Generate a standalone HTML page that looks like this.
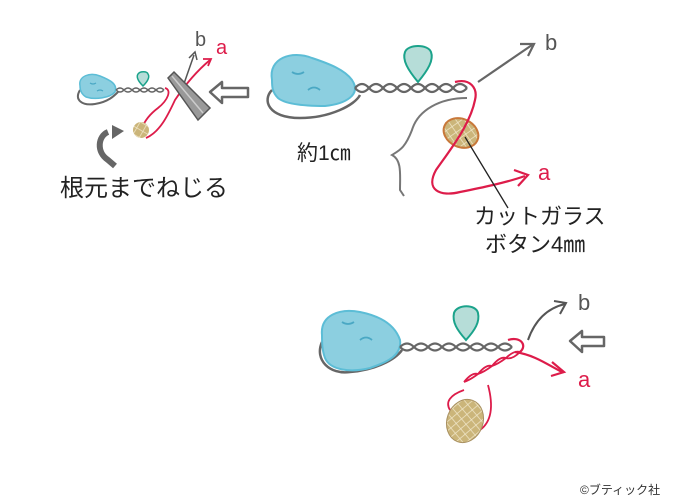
<!DOCTYPE html>
<html><head><meta charset="utf-8"><style>
body{margin:0;background:#fff}
svg{display:block}
text{font-family:"Liberation Sans","Noto Sans CJK JP",sans-serif}
</style></head><body>
<svg width="680" height="500" viewBox="0 0 680 500" xmlns="http://www.w3.org/2000/svg">
<defs>
<pattern id="hatch" width="7" height="7" patternUnits="userSpaceOnUse" patternTransform="rotate(30)">
<rect width="7" height="7" fill="#cbb57a"/>
<path d="M0 0H7M0 0V7" stroke="#f0e6c8" stroke-width="1.5"/>
</pattern>
</defs>
<!-- ===== TOP RIGHT ===== -->
<path d="M272 90 C262 100 268 118 300 118 C330 118 355 105 360 95" fill="none" stroke="#666" stroke-width="2.5"/>
<path d="M272 80 C268 58 292 50 312 58 C330 64 345 70 352 80 C362 95 345 104 325 106 C305 106 285 104 278 98 C272 92 272 86 272 80Z" fill="#8ccfe0" stroke="#5cbdd6" stroke-width="2"/>
<path d="M292 72 q6 4 12 0 M308 90 q6 -5 12 0" fill="none" stroke="#4aa8c4" stroke-width="1.8"/>
<path d="M355 88 q7 -8 14 0 q7 8 14 0 q7 -8 14 0 q7 8 14 0 q7 -8 14 0 q7 8 14 0 q7 -8 14 0 q7 8 14 0" fill="none" stroke="#666" stroke-width="2.2"/>
<path d="M355 88 q7 8 14 0 q7 -8 14 0 q7 8 14 0 q7 -8 14 0 q7 8 14 0 q7 -8 14 0 q7 8 14 0 q7 -8 14 0" fill="none" stroke="#666" stroke-width="2.2"/>
<path d="M418 82 C408 70 402 60 405 52 C408 44 428 44 431 52 C434 60 428 70 418 82Z" fill="#b6ddd8" stroke="#1ba38b" stroke-width="2"/>
<path d="M478 82 L532 45" stroke="#666" stroke-width="2.2" fill="none"/>
<path d="M520 44 L534 44 L528 56" stroke="#666" stroke-width="2.2" fill="none"/>
<text x="545" y="50" font-size="22" fill="#555">b</text>
<path d="M467 98 C440 98 418 110 412 130 C405 148 400 150 392 155 C402 160 400 175 400 190 L404 196" fill="none" stroke="#777" stroke-width="2"/>
<ellipse cx="461" cy="133" rx="18" ry="14" transform="rotate(25 461 133)" fill="url(#hatch)" stroke="#c8783a" stroke-width="2"/>
<path d="M455 82 C470 78 478 88 475 100 C470 125 450 150 436 170 C425 190 440 197 460 192 C480 188 505 183 525 176" fill="none" stroke="#dd1c4a" stroke-width="2.2"/>
<path d="M514 170 L528 175 L518 186" fill="none" stroke="#dd1c4a" stroke-width="2.2"/>
<text x="538" y="180" font-size="22" fill="#dd1c4a">a</text>
<path d="M465 137 L508 208" stroke="#222" stroke-width="1.3"/>
<text x="297" y="160" font-size="21" fill="#222">約1㎝</text>
<text x="474" y="224" font-size="22" fill="#222">カットガラス</text>
<text x="485" y="252" font-size="22" fill="#222">ボタン4㎜</text>
<!-- ===== TOP LEFT ===== -->
<path d="M80 90 C74 100 82 106 95 104 C108 102 114 96 118 92" fill="none" stroke="#666" stroke-width="2"/>
<path d="M80 86 C78 76 90 72 100 76 C110 80 118 84 115 92 C110 98 95 100 86 97 C81 94 80 90 80 86Z" fill="#8ccfe0" stroke="#5cbdd6" stroke-width="1.5"/>
<path d="M90 83 q3 2 6 0 M97 91 q3 -2 6 0" fill="none" stroke="#4aa8c4" stroke-width="1.2"/>
<path d="M116 90 q4 -4 8 0 q4 4 8 0 q4 -4 8 0 q4 4 8 0 q4 -4 8 0 q4 4 8 0 M116 90 q4 4 8 0 q4 -4 8 0 q4 4 8 0 q4 -4 8 0 q4 4 8 0 q4 -4 8 0" fill="none" stroke="#666" stroke-width="1.5"/>
<path d="M143 86 C138 81 136 77 138 74 C140 71 147 71 148 74 C150 77 148 81 143 86Z" fill="#b6ddd8" stroke="#1ba38b" stroke-width="1.5"/>
<path d="M180 95 L194 55" stroke="#555" stroke-width="1.5"/>
<path d="M189 58 L195 52 L197 60" stroke="#555" stroke-width="1.5" fill="none"/>
<text x="195" y="46" font-size="20" fill="#555">b</text>
<path d="M165 88 C172 90 168 100 158 108 C150 114 145 120 142 128 M146 138 C160 132 168 115 175 100 C185 85 198 70 210 60" fill="none" stroke="#dd1c4a" stroke-width="1.8"/>
<path d="M203 59 L211 59 L208 66" stroke="#dd1c4a" stroke-width="1.8" fill="none"/>
<text x="216" y="54" font-size="20" fill="#dd1c4a">a</text>
<polygon points="168,78 174,72 210,108 198,120" fill="#999" stroke="#555" stroke-width="1.5"/>
<path d="M172 76 L203 113" stroke="#ccc" stroke-width="1.5"/>
<circle cx="141" cy="130" r="8" fill="url(#hatch)"/>
<path d="M108 132 C98 136 96 152 108 160 L115 166" fill="none" stroke="#666" stroke-width="6"/>
<polygon points="112,125 124,131 112,139" fill="#666"/>
<polygon points="210,92 222,82 222,88 248,88 248,97 222,97 222,103" fill="#fff" stroke="#666" stroke-width="2.5" stroke-linejoin="round"/>
<text x="60" y="196" font-size="24" fill="#222">根元までねじる</text>
<!-- ===== BOTTOM ===== -->
<path d="M322 342 C314 360 330 375 350 372 C375 370 395 360 402 350" fill="none" stroke="#666" stroke-width="2.5"/>
<path d="M322 335 C320 315 340 308 360 312 C380 316 395 325 400 340 C402 355 388 362 370 368 C350 373 330 370 325 358 C322 350 322 342 322 335Z" fill="#8ccfe0" stroke="#5cbdd6" stroke-width="2"/>
<path d="M342 322 q6 4 12 0 M360 340 q6 -5 12 0" fill="none" stroke="#4aa8c4" stroke-width="1.8"/>
<path d="M400 347 q7 -7 14 0 q7 7 14 0 q7 -7 14 0 q7 7 14 0 q7 -7 14 0 q7 7 14 0 q7 -7 14 0 q7 7 14 0 M400 347 q7 7 14 0 q7 -7 14 0 q7 7 14 0 q7 -7 14 0 q7 7 14 0 q7 -7 14 0 q7 7 14 0 q7 -7 14 0" fill="none" stroke="#666" stroke-width="2.2"/>
<path d="M466 340 C457 330 452 322 454 313 C457 304 476 304 478 313 C480 322 475 330 466 340Z" fill="#b6ddd8" stroke="#1ba38b" stroke-width="2"/>
<path d="M528 340 C535 320 548 308 565 304" stroke="#555" stroke-width="2" fill="none"/>
<path d="M554 301 L566 303 L560 314" stroke="#555" stroke-width="2" fill="none"/>
<text x="578" y="310" font-size="22" fill="#555">b</text>
<polygon points="570,341 582,331 582,337 604,337 604,346 582,346 582,352" fill="#fff" stroke="#666" stroke-width="2.5" stroke-linejoin="round"/>
<path d="M508 340 C520 336 528 345 520 352 M515 352 C535 355 548 365 562 372" fill="none" stroke="#dd1c4a" stroke-width="2.2"/>
<path d="M552 362 L564 372 L551 376" fill="none" stroke="#dd1c4a" stroke-width="2.2"/>
<text x="578" y="387" font-size="22" fill="#dd1c4a">a</text>
<path d="M520 352 q-8 8 -14 6 q-8 6 -14 8 q-8 6 -14 8 q-8 6 -14 8 M520 352 q-6 -2 -14 6 q-6 -2 -14 8 q-6 -2 -14 8 q-6 -2 -14 8" fill="none" stroke="#dd1c4a" stroke-width="1.8"/>
<path d="M464 390 C450 395 445 402 450 410 M488 385 C492 400 494 420 480 430" fill="none" stroke="#dd1c4a" stroke-width="1.8"/>
<ellipse cx="465" cy="421" rx="18" ry="22" transform="rotate(20 465 421)" fill="url(#hatch)" stroke="#a89060" stroke-width="1"/>
<text x="580" y="494" font-size="12" fill="#333">©ブティック社</text>
</svg>
</body></html>
